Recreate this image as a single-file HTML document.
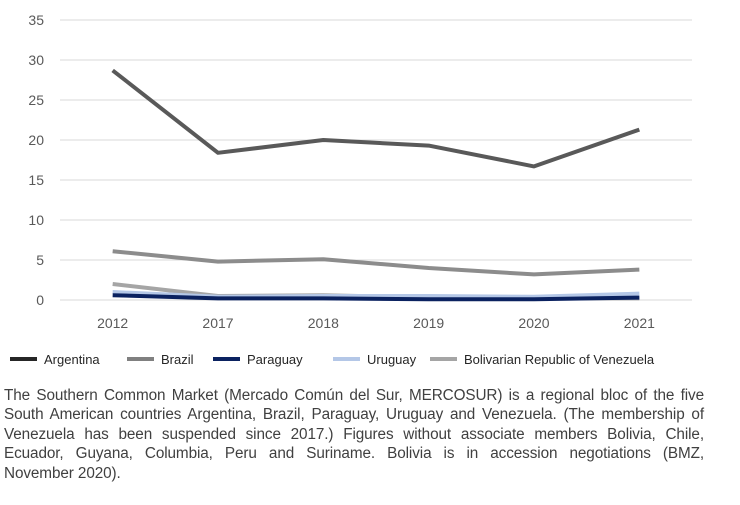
<!DOCTYPE html>
<html><head><meta charset="utf-8"><style>
body{margin:0;width:740px;height:505px;background:#fff;font-family:"Liberation Sans",sans-serif;overflow:hidden}
#cap{position:absolute;left:4px;top:386px;width:700px;font-size:15.3px;line-height:19.4px;color:#404040;text-align:justify;letter-spacing:-0.1px}
</style></head><body>
<svg id="chart" width="740" height="380" style="position:absolute;left:0;top:0"></svg>
<div id="cap">The Southern Common Market (Mercado Común del Sur, MERCOSUR) is a regional bloc of the five South American countries Argentina, Brazil, Paraguay, Uruguay and Venezuela. (The membership of Venezuela has been suspended since 2017.) Figures without associate members Bolivia, Chile, Ecuador, Guyana, Columbia, Peru and Suriname. Bolivia is in accession negotiations (BMZ, November&nbsp;2020).</div>
<script>
const categories=["2012","2017","2018","2019","2020","2021"];
const yTicks=[0,5,10,15,20,25,30,35];
const seriesNames=["Argentina","Brazil","Paraguay","Uruguay","Bolivarian Republic of Venezuela"];
const argentina=[28.7,18.4,20.0,19.3,16.7,21.3];
const brazil=[6.1,4.8,5.1,4.0,3.2,3.8];
const paraguay=[0.6,0.2,0.2,0.1,0.1,0.3];
const uruguay=[1.0,0.4,0.5,0.5,0.4,0.8];
const venezuela=[2.0,0.5,0.6,0.3,0.2,0.2];
const NS="http://www.w3.org/2000/svg";
const svg=document.getElementById('chart');
const x0=60,x1=692,yTop=20,yBot=300,yMax=35;
const step=(x1-x0)/categories.length;
const xs=i=>x0+step*(i+0.5);
const ys=v=>yBot-(v/yMax)*(yBot-yTop);
function mk(t,a){const e=document.createElementNS(NS,t);for(const k in a)e.setAttribute(k,a[k]);svg.appendChild(e);return e;}
yTicks.forEach(v=>{
 const g=mk('line',{x1:x0,x2:x1,y1:ys(v),y2:ys(v),stroke:'#d9d9d9','stroke-width':1});
 
 
 const t=mk('text',{x:44,y:ys(v)+5,'text-anchor':'end','font-size':14,fill:'#595959'});
 t.textContent=v;
 
 
});
categories.forEach((c,i)=>{
 const t=mk('text',{x:xs(i),y:328,'text-anchor':'middle','font-size':14,fill:'#595959'});
 t.textContent=c;
 
 
});
const data=[argentina,brazil,paraguay,uruguay,venezuela];
const lineColors=["#595959","#8c8c8c","#0b2260","#b4c7e7","#a5a5a5"];
const legColors=["#262626","#808080","#0b2260","#b4c7e7","#a5a5a5"];
const order=[4,3,1,0,2];
order.forEach(s=>{
 const p=mk('polyline',{points:data[s].map((v,i)=>xs(i)+','+ys(v)).join(' '),fill:'none',stroke:lineColors[s],'stroke-width':4,'stroke-linejoin':'round'});
 
 
});
const legX=[10,127,213,333,430];
seriesNames.forEach((n,s)=>{
 const l=mk('line',{x1:legX[s],x2:legX[s]+27,y1:359,y2:359,stroke:legColors[s],'stroke-width':4});
 
 
 const t=mk('text',{x:legX[s]+34,y:364,'font-size':13,fill:'#262626'});
 t.textContent=n;
 
 
});
</script>
</body></html>
